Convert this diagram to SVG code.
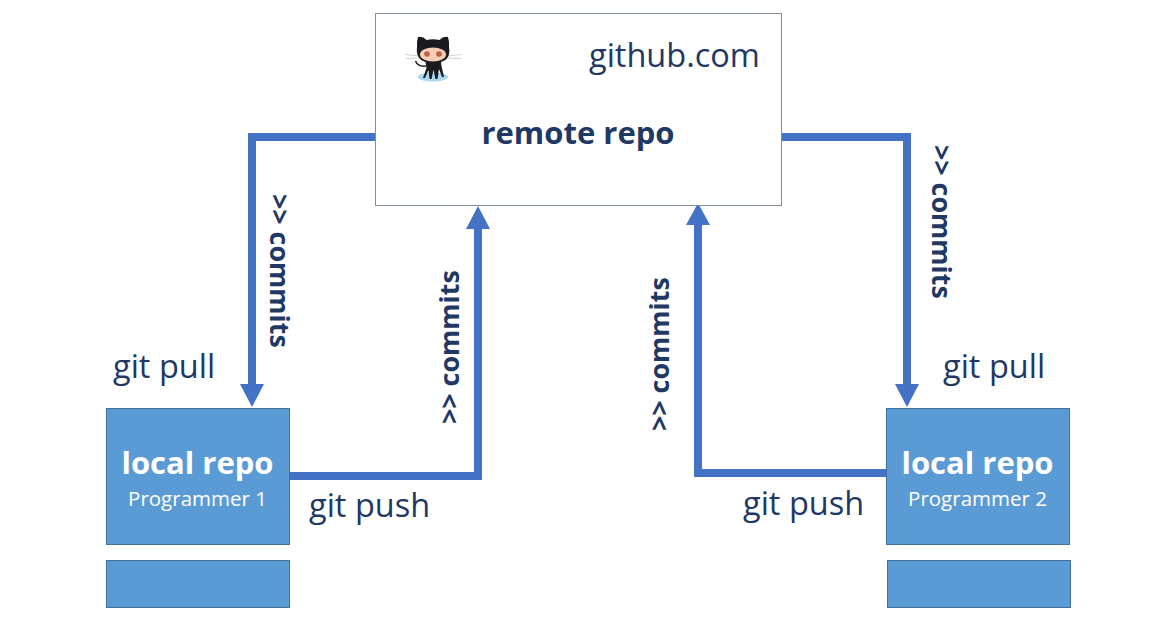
<svg xmlns="http://www.w3.org/2000/svg" width="1169" height="641" viewBox="0 0 1169 641">
<style>
text{font-family:"Open Sans","Noto Sans","Liberation Sans",sans-serif;fill:#1f3864}
.lbl{font-size:32.5px}
.cm{font-size:26.8px;font-weight:700}
.box{fill:#5b9bd5;stroke:#41719c;stroke-width:1}
.ttl{font-size:31px;font-weight:700;fill:#fff;text-anchor:middle}
.sub{font-size:20.5px;fill:#fff;text-anchor:middle}
.ln{fill:none;stroke:#4472c4;stroke-width:8;stroke-linejoin:miter}
.hd{fill:#4472c4}
</style>
<g id="connectors">
<path class="ln" d="M375 137H252V385"/><path class="hd" d="M240 384H264L252 407Z"/>
<path class="ln" d="M290 476H478V228"/><path class="hd" d="M466 229H490L478 206Z"/>
<path class="ln" d="M887 473H698V225"/><path class="hd" d="M686 225H710L698 203Z"/>
<path class="ln" d="M781 137H907V385"/><path class="hd" d="M895 384H919L907 407Z"/>
</g>
<g id="remote-repo">
<rect x="375.500" y="13.500" width="406" height="192" fill="#fff" stroke="#7f8f9f"/>
<g id="octocat">
<ellipse cx="433" cy="77" rx="15" ry="4.500" fill="#a9d8ef"/>
<path d="M405 54.500L419 56M406 58.500L419 58M461 54.500L447 56M461 58.500L447 58" stroke="#d0d0d0" stroke-width="1" fill="none"/>
<path d="M418 37Q423 36 426.500 40Q433 38.500 439.500 40Q443 36 448 37Q449.500 42 449 47Q451 59 441 62L441.500 66L444 77H442L439 69L437.500 79H435.500L433.500 70L431.500 79H429.500L428.500 70L425 78H423L426.500 68L425.500 62Q415.500 59 417 47Q416.500 42 418 37Z" fill="#1b1b1f"/>
<path d="M426 66Q418 67 415.500 61" stroke="#1b1b1f" stroke-width="1.500" fill="none"/>
<ellipse cx="433" cy="54.500" rx="13" ry="7" fill="#f5cdb4"/>
<circle cx="427" cy="54" r="2.800" fill="#b9604a"/><circle cx="439" cy="54" r="2.800" fill="#b9604a"/>
</g>
<text x="589" y="67" style="font-size:32.500px">github.com</text>
<text x="578" y="144" text-anchor="middle" style="font-size:31px;font-weight:700">remote repo</text>
</g>
<g id="local-repo-1">
<rect class="box" x="106.500" y="408.500" width="183" height="136"/>
<text class="ttl" x="197.500" y="473.500">local repo</text>
<text class="sub" x="197.500" y="505.500">Programmer 1</text>
</g>
<g id="store-1"><rect class="box" x="106.500" y="560.500" width="183" height="47"/></g>
<g id="local-repo-2">
<rect class="box" x="886.500" y="408.500" width="183" height="136"/>
<text class="ttl" x="977.500" y="473.500">local repo</text>
<text class="sub" x="977.500" y="505.500">Programmer 2</text>
</g>
<g id="store-2"><rect class="box" x="887.500" y="560.500" width="183" height="47"/></g>
<g id="labels">
<text class="lbl" x="113" y="378">git pull</text>
<text class="lbl" x="309" y="517">git push</text>
<text class="lbl" x="743" y="515">git push</text>
<text class="lbl" x="943" y="378">git pull</text>
<text class="cm" transform="translate(270 194) rotate(90)">&gt;&gt; commits</text>
<text class="cm" transform="translate(459 424) rotate(-90)">&gt;&gt; commits</text>
<text class="cm" transform="translate(669 431) rotate(-90)">&gt;&gt; commits</text>
<text class="cm" transform="translate(932 145) rotate(90)">&gt;&gt; commits</text>
</g>
</svg>
